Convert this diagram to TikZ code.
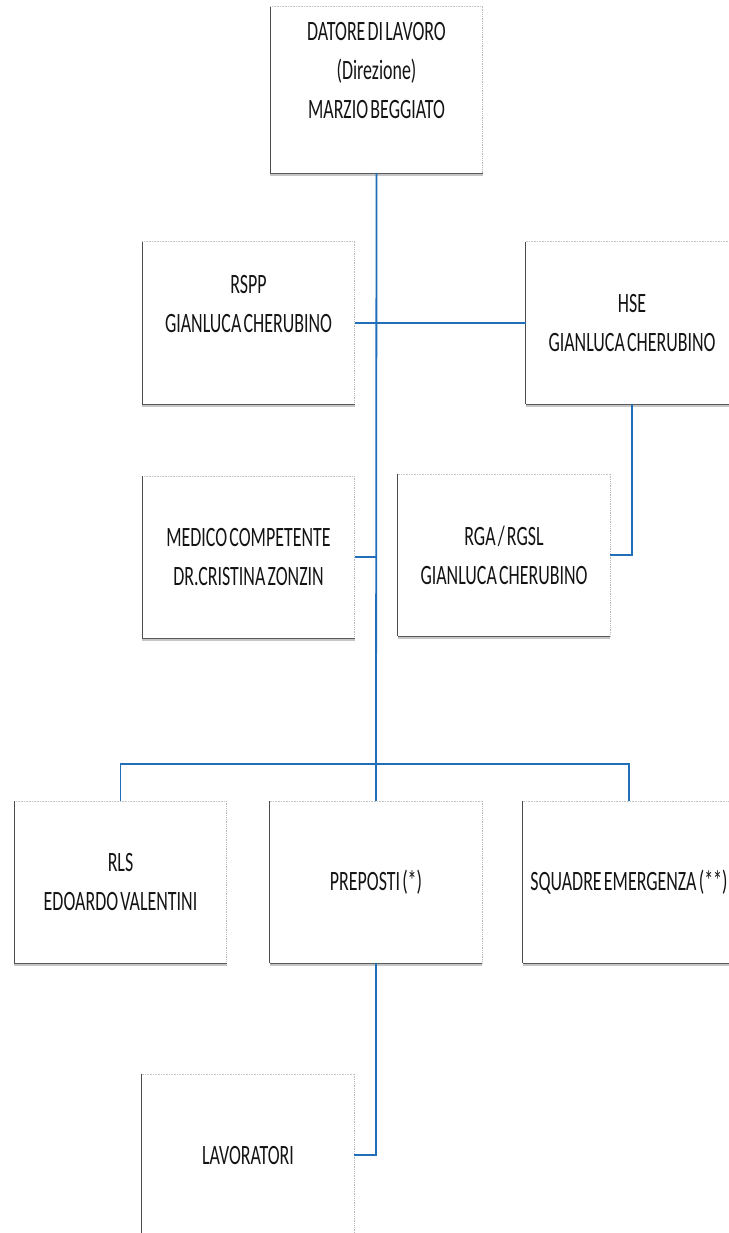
\documentclass[tikz,border=0pt]{standalone}
\usepackage{fontspec}
\setmainfont[FakeStretch=0.64, WordSpace=0.55]{Carlito}
\usepackage{tikz}
\usetikzlibrary{calc}

\definecolor{linkblue}{RGB}{33,110,185}
\definecolor{inkgrey}{RGB}{20,20,20}

\tikzset{
	orgbox/.style={minimum width=212, minimum height=162, inner sep=0pt, align=center,
		text=inkgrey, font=\fontsize{28}{39}\selectfont,
		append after command={\pgfextra{\let\boxnode=\tikzlastnode}
			(\boxnode.north west) edge[gray!45, densely dotted, line width=0.6pt] (\boxnode.north east)
			(\boxnode.north east) edge[gray!55, densely dotted, line width=0.8pt] (\boxnode.south east)
			([yshift=-1.5pt]\boxnode.south west) edge[gray!45, line width=3pt] ([yshift=-1.5pt]\boxnode.south east)
			(\boxnode.south west) edge[black!65, line width=1pt] (\boxnode.south east)
			(\boxnode.south west) edge[black!70, line width=1pt] (\boxnode.north west)}},
	link/.style={draw=linkblue, line width=1.8pt}
}

\begin{document}
\begin{tikzpicture}[x=1pt, y=-1pt]
			\useasboundingbox[fill=white] (0, 0) rectangle (728, 1233);
			
			\node [orgbox, minimum height=166] (Datore) at (376.5, 90) {DATORE DI LAVORO\\(Direzione)\\MARZIO BEGGIATO\\\mbox{}};
			
			\node [orgbox] (RSPP) at (248.5, 323) {RSPP\\GIANLUCA CHERUBINO\\\mbox{}};
			\node [orgbox] (HSE) at (632, 323) {HSE\\GIANLUCA CHERUBINO};
			
			\node [orgbox] (Medico) at (248.5, 557) {MEDICO COMPETENTE\\DR.CRISTINA ZONZIN};
			\node [orgbox] (RGA) at (504, 555) {RGA / RGSL\\GIANLUCA CHERUBINO};
			
			\node [orgbox] (RLS) at (120.5, 882) {RLS\\EDOARDO VALENTINI};
			\node [orgbox] (Preposti) at (376, 882) {PREPOSTI (*)};
			\node [orgbox] (Squadre) at (629, 882) {SQUADRE EMERGENZA (**)};
			
			\node [orgbox] (Lavoratori) at (248, 1155) {LAVORATORI};
			
			\coordinate (split) at (376, 764);
			
			\draw[link] (Datore.south) -- (split);
			\draw[link] (RSPP.east) -- (HSE.west);
			\draw[link] (Medico.east) -- (Medico.east -| split);
			\draw[link] (HSE.south) |- (RGA.east);
			\draw[link] (RLS.north) |- (split) -| (Squadre.north);
			\draw[link] (split) -- (Preposti.north);
			\draw[link] (Preposti.south) |- (Lavoratori.east);
		\end{tikzpicture}
\end{document}
